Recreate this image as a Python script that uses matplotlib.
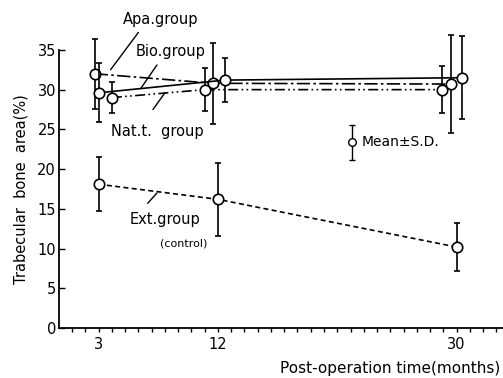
import numpy as np
from matplotlib import pyplot as plt
import matplotlib

matplotlib.rcParams['font.family'] = ['DejaVu Sans']

# months (slightly offset per group, as in the original figure)
apa_x = [2.7, 11.6, 29.6]
apa_y = [32.0, 30.8, 30.7]
apa_sd = [4.4, 5.1, 6.2]

bio_x = [3.0, 12.5, 30.4]
bio_y = [29.6, 31.2, 31.5]
bio_sd = [3.7, 2.8, 5.2]

nat_x = [4.0, 11.0, 28.9]
nat_y = [29.0, 30.0, 30.0]
nat_sd = [2.0, 2.7, 3.0]

ext_x = [3.0, 12.0, 30.0]
ext_y = [18.1, 16.2, 10.2]
ext_sd = [3.4, 4.6, 3.0]

major_ticks = [3, 12, 30]
y_ticks = [0, 5, 10, 15, 20, 25, 30, 35]

fig = plt.figure(figsize=(5.03, 3.78), dpi=100)
ax = fig.add_axes([0.117, 0.132, 0.883, 0.736])

common = dict(color='black', lw=1.2, marker='o', ms=7.5, mfc='white', mec='black',
              mew=1.2, ecolor='black', elinewidth=1.2, capsize=2, capthick=1.2)


def no_clip(container):
    for child in container.get_children():
        child.set_clip_on(False)


no_clip(ax.errorbar(ext_x, ext_y, yerr=ext_sd, dashes=(3, 2), zorder=3, **common))
no_clip(ax.errorbar(nat_x, nat_y, yerr=nat_sd, dashes=(6, 2, 1, 2, 1, 2), zorder=4, **common))
no_clip(ax.errorbar(apa_x, apa_y, yerr=apa_sd, dashes=(8, 2, 1.5, 2), zorder=5, **common))
no_clip(ax.errorbar(bio_x, bio_y, yerr=bio_sd, ls='-', zorder=6, **common))

# legend symbol
ax.errorbar([22.1], [23.4], yerr=[2.2], color='black', marker='o', ms=5.5, mfc='white',
            mec='black', mew=1.0, elinewidth=1.0, capsize=2, capthick=1.0)
ax.text(22.8, 23.4, 'Mean\u00b1S.D.', fontsize=10, va='center', ha='left')

leader = dict(arrowstyle='-', color='black', lw=1.0, shrinkA=0, shrinkB=0)
ax.annotate('', xy=(3.9, 32.5), xytext=(6.0, 37.2), arrowprops=leader, annotation_clip=False)
ax.text(7.7, 38.8, 'Apa.group', fontsize=10.5, ha='center', va='center', clip_on=False)
ax.annotate('', xy=(6.2, 30.2), xytext=(7.4, 33.1), arrowprops=leader)
ax.text(8.4, 34.8, 'Bio.group', fontsize=10.5, ha='center', va='center', clip_on=False)
ax.annotate('', xy=(8.0, 29.6), xytext=(7.1, 27.5), arrowprops=leader)
ax.text(7.4, 24.7, 'Nat.t.  group', fontsize=10.5, ha='center', va='center')
ax.annotate('', xy=(7.4, 17.0), xytext=(6.7, 15.7), arrowprops=leader)
ax.text(8.0, 13.7, 'Ext.group', fontsize=10.5, ha='center', va='center')
ax.text(9.4, 10.7, '(control)', fontsize=8, ha='center', va='center')

ax.set_xlim(0, 33.5)
ax.set_ylim(0, 35)
ax.set_xticks(major_ticks)
ax.set_xticks(np.arange(1, 34), minor=True)
ax.set_yticks(y_ticks)
ax.tick_params(axis='x', which='both', direction='out', length=3, width=1.0, labelsize=10.5)
ax.tick_params(axis='y', direction='in', length=4, width=1.0, labelsize=10.5, pad=2)
for side in ['top', 'right']:
    ax.spines[side].set_visible(False)
for side in ['left', 'bottom']:
    ax.spines[side].set_linewidth(1.3)

ax.set_ylabel('Trabecular  bone  area(%)', fontsize=10.5, labelpad=6)
fig.text(0.995, 0.025, 'Post-operation time(months)', fontsize=11, ha='right', va='center')

fig.savefig('out.png', dpi=100)
